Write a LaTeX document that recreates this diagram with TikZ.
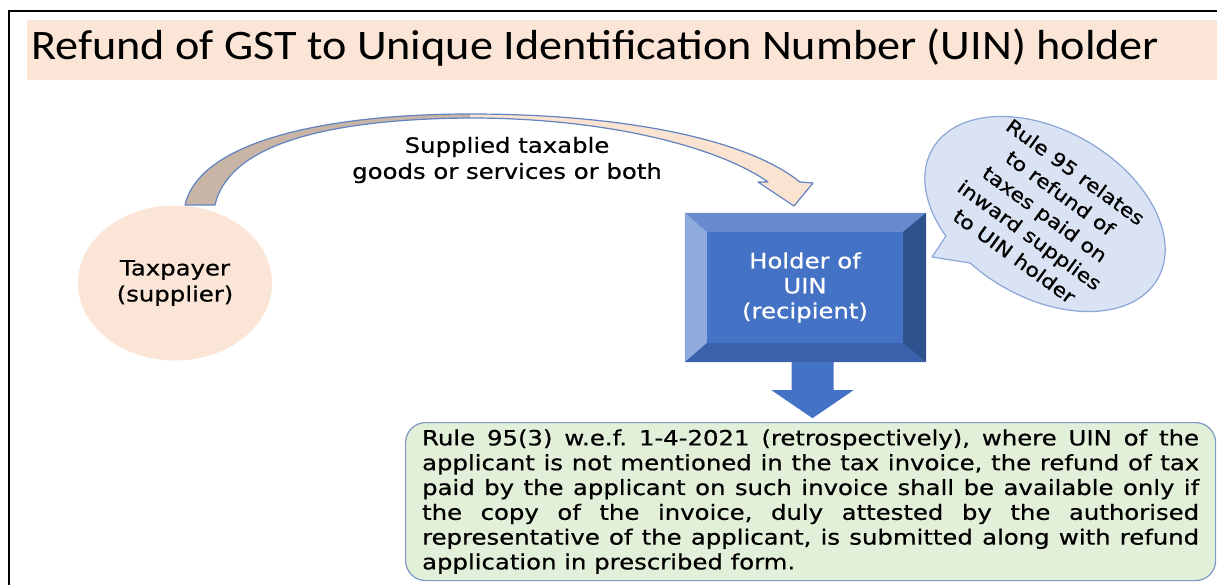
\documentclass[tikz,border=0pt]{standalone}
\usepackage{fontspec}
\setmainfont{Carlito}
\newfontfamily\titlefont[FakeStretch=1.1]{Carlito}
\newfontfamily\comicfont[FakeStretch=1.16, FakeBold=0.6]{DejaVu Sans}
\usetikzlibrary{shapes.geometric}

\definecolor{peach}{HTML}{FBE5D6}
\definecolor{arrowtan}{HTML}{C9B5A6}
\definecolor{arrowpeach}{HTML}{FBE3D2}
\definecolor{edgeblue}{HTML}{6283BF}
\definecolor{faceblue}{HTML}{4472C4}
\definecolor{bevellight}{HTML}{8FAADC}
\definecolor{bevelmid}{HTML}{6A8ACF}
\definecolor{beveldark}{HTML}{2F528F}
\definecolor{bevelbottom}{HTML}{3A61A9}
\definecolor{bubblefill}{HTML}{DAE3F3}
\definecolor{bubbleedge}{HTML}{8AA5D6}
\definecolor{notefill}{HTML}{E2EFD9}
\definecolor{noteedge}{HTML}{7E98C6}

\begin{document}
\begin{tikzpicture}[x=1pt, y=-1pt,
    comic/.style={font=\comicfont\fontsize{21}{26}\selectfont, align=center},
    edge/.style={draw=edgeblue, line width=1.2pt, line join=round},
    notetext/.style={font=\comicfont\fontsize{21}{24.8}\selectfont, align=justify,
        execute at begin node={\frenchspacing\tolerance=10000\hbadness=10000\hyphenpenalty=10000}},
  ]
  \useasboundingbox (0,0) rectangle (1217,585);

  % frame and title band
  \draw[line width=1.6pt] (9,585) -- (9,11) -- (1217,11);
  \fill[peach] (27,20) rectangle (1217,80);
  \node[anchor=base west, inner sep=0pt, font=\titlefont\fontsize{42}{50}\selectfont] (title) at (31,60)
    {Refund of GST to Unique Identification Number (UIN) holder};

  % supplier
  \node[ellipse, fill=peach, minimum width=194pt, minimum height=155pt, inner sep=0pt, comic]
    (taxpayer) at (175,283) {Taxpayer\\(supplier)};

  % curved supply arrow, darker on the far side of the bend
  \fill[arrowtan] (185,205) .. controls (200,140) and (330,114) .. (470,114) -- (470,118)
    .. controls (340,119) and (230,140) .. (215,205) -- cycle;
  \fill[arrowpeach] (470,114) .. controls (620,114) and (745,138) .. (800,182) -- (813,183)
    -- (794,206) -- (758,182) -- (768,182) .. controls (720,148) and (610,118) .. (470,118) -- cycle;
  \draw[edge] (185,205) .. controls (200,140) and (330,114) .. (470,114)
    .. controls (620,114) and (745,138) .. (800,182) -- (813,183) -- (794,206) -- (758,182)
    -- (768,182) .. controls (720,148) and (610,118) .. (470,118)
    .. controls (340,119) and (230,140) .. (215,205) -- cycle;
  \node[comic] (supplylabel) at (507,160) {Supplied taxable\\goods or services or both};

  % recipient box with bevel
  \node[minimum width=241pt, minimum height=149pt, fill=faceblue, inner sep=0pt] (holder) at (805.5,287.5) {};
  \node[minimum width=196pt, minimum height=111pt, fill=faceblue, inner sep=0pt, comic,
    font=\comicfont\fontsize{21}{25}\selectfont, text=white] (holderface) at (805,287.5)
    {Holder of\\UIN\\(recipient)};
  \fill[bevelmid] (holder.north west) -- (holder.north east) -- (holderface.north east) -- (holderface.north west) -- cycle;
  \fill[bevellight] (holder.north west) -- (holderface.north west) -- (holderface.south west) -- (holder.south west) -- cycle;
  \fill[beveldark] (holder.north east) -- (holder.south east) -- (holderface.south east) -- (holderface.north east) -- cycle;
  \fill[bevelbottom] (holder.south west) -- (holderface.south west) -- (holderface.south east) -- (holder.south east) -- cycle;

  % block arrow down to the note
  \fill[faceblue] (holder.south) ++(-14,0) -- ++(42,0) -- ++(0,28) -- ++(20,0) -- ++(-41,28)
    -- ++(-41,-28) -- ++(20,0) -- cycle;

  % speech bubble
  \filldraw[fill=bubblefill, draw=bubbleedge, line width=1.2pt, rotate around={-30:(1045,214)}]
    (1045,214) ellipse [x radius=130, y radius=84];
  \fill[bubblefill] (946,236) -- (932,257) -- (970,263) -- (975,240) -- cycle;
  \draw[draw=bubbleedge, line width=1.2pt, line join=round] (946,236) -- (932,257) -- (970,263);
  \node[comic, font=\comicfont\fontsize{19}{26}\selectfont, rotate=-36] (rulebubble) at (1045,214)
    {Rule 95 relates\\to refund of\\taxes paid on\\inward supplies\\to UIN holder};

  % rule 95(3) note
  \node[anchor=north west, draw=noteedge, fill=notefill, line width=1.2pt, rounded corners=20pt,
    minimum height=158pt, text width=777pt, inner xsep=16.5pt, notetext] (rulenote) at (405,422)
    {Rule 95(3) w.e.f. 1-4-2021 (retrospectively), where UIN of the\linebreak
     applicant is not mentioned in the tax invoice, the refund of tax\linebreak
     paid by the applicant on such invoice shall be available only if\linebreak
     the copy of the invoice, duly attested by the authorised\linebreak
     representative of the applicant, is submitted along with refund\linebreak
     application in prescribed form.};
\end{tikzpicture}
\end{document}
